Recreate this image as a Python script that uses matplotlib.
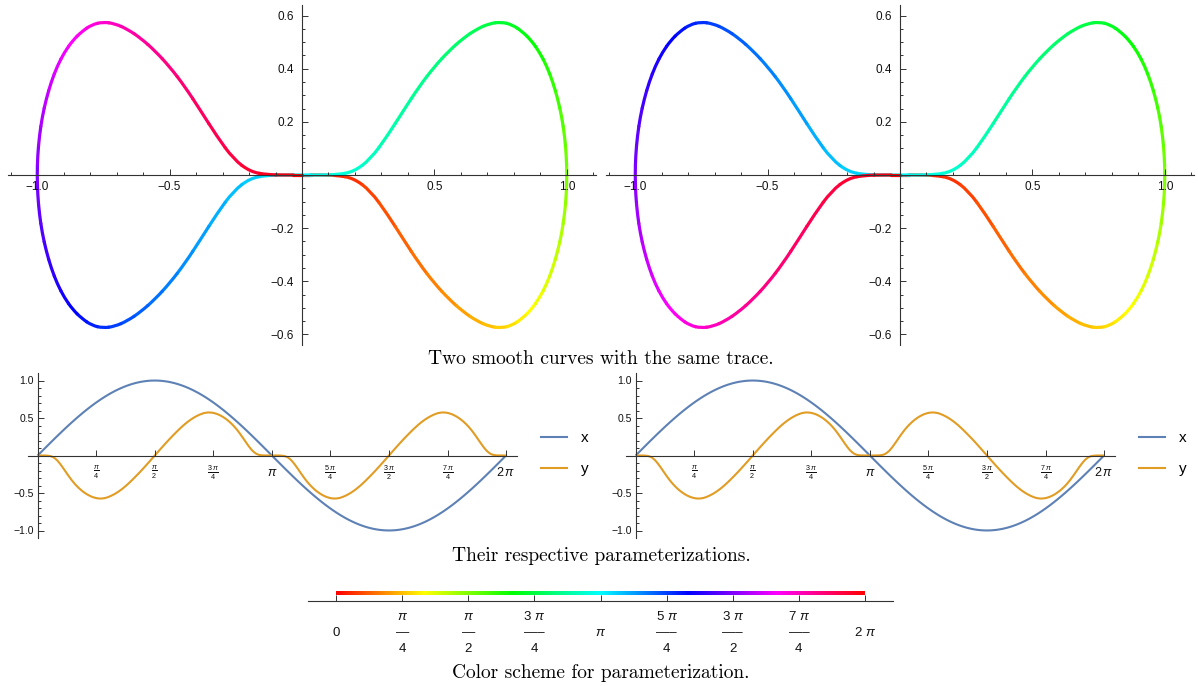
import numpy as np
import matplotlib
matplotlib.use("Agg")
import matplotlib.pyplot as plt
from matplotlib.collections import PathCollection
from matplotlib.colors import hsv_to_rgb
from matplotlib.lines import Line2D
from matplotlib.patches import PathPatch
from matplotlib.path import Path

plt.rcParams['font.family'] = 'Liberation Sans'
plt.rcParams['mathtext.fontset'] = 'custom'
plt.rcParams['mathtext.rm'] = 'Liberation Sans'
plt.rcParams['mathtext.it'] = 'Liberation Sans:italic'
plt.rcParams['mathtext.sf'] = 'Liberation Sans'

# parameter samples, t = k*pi/48, k = 0..96
t = np.linspace(0, 2 * np.pi, 97)

# x(t), same for both curves
x_vals = [0, 0.0654, 0.1305, 0.1951, 0.2588, 0.3214, 0.3827, 0.4423, 0.5, 0.5556, 0.6088, 0.6593, 0.7071,
          0.7518, 0.7934, 0.8315, 0.866, 0.8969, 0.9239, 0.9469, 0.9659, 0.9808, 0.9914, 0.9979, 1,
          0.9979, 0.9914, 0.9808, 0.9659, 0.9469, 0.9239, 0.8969, 0.866, 0.8315, 0.7934, 0.7518, 0.7071,
          0.6593, 0.6088, 0.5556, 0.5, 0.4423, 0.3827, 0.3214, 0.2588, 0.1951, 0.1305, 0.0654, 0,
          -0.0654, -0.1305, -0.1951, -0.2588, -0.3214, -0.3827, -0.4423, -0.5, -0.5556, -0.6088, -0.6593, -0.7071,
          -0.7518, -0.7934, -0.8315, -0.866, -0.8969, -0.9239, -0.9469, -0.9659, -0.9808, -0.9914, -0.9979, -1,
          -0.9979, -0.9914, -0.9808, -0.9659, -0.9469, -0.9239, -0.8969, -0.866, -0.8315, -0.7934, -0.7518, -0.7071,
          -0.6593, -0.6088, -0.5556, -0.5, -0.4423, -0.3827, -0.3214, -0.2588, -0.1951, -0.1305, -0.0654, 0]

# y(t) of the first curve
y1_vals = [0, 0, -0.001, -0.012, -0.06, -0.146, -0.242, -0.333, -0.408, -0.468, -0.515, -0.549, -0.57,
           -0.576, -0.566, -0.54, -0.506, -0.462, -0.41, -0.35, -0.285, -0.218, -0.147, -0.074, 0,
           0.074, 0.147, 0.218, 0.285, 0.35, 0.41, 0.462, 0.506, 0.54, 0.566, 0.576, 0.57,
           0.549, 0.515, 0.468, 0.408, 0.333, 0.242, 0.146, 0.06, 0.012, 0.001, 0, 0,
           0, -0.001, -0.012, -0.06, -0.146, -0.242, -0.333, -0.408, -0.468, -0.515, -0.549, -0.57,
           -0.576, -0.566, -0.54, -0.506, -0.462, -0.41, -0.35, -0.285, -0.218, -0.147, -0.074, 0,
           0.074, 0.147, 0.218, 0.285, 0.35, 0.41, 0.462, 0.506, 0.54, 0.566, 0.576, 0.57,
           0.549, 0.515, 0.468, 0.408, 0.333, 0.242, 0.146, 0.06, 0.012, 0.001, 0, 0]

# y(t) of the second curve
y2_vals = [0, 0, -0.001, -0.012, -0.06, -0.146, -0.242, -0.333, -0.408, -0.468, -0.515, -0.549, -0.57,
           -0.576, -0.566, -0.54, -0.506, -0.462, -0.41, -0.35, -0.285, -0.218, -0.147, -0.074, 0,
           0.074, 0.147, 0.218, 0.285, 0.35, 0.41, 0.462, 0.506, 0.54, 0.566, 0.576, 0.57,
           0.549, 0.515, 0.468, 0.408, 0.333, 0.242, 0.146, 0.06, 0.012, 0.001, 0, 0,
           0, 0.001, 0.012, 0.06, 0.146, 0.242, 0.333, 0.408, 0.468, 0.515, 0.549, 0.57,
           0.576, 0.566, 0.54, 0.506, 0.462, 0.41, 0.35, 0.285, 0.218, 0.147, 0.074, 0,
           -0.074, -0.147, -0.218, -0.285, -0.35, -0.41, -0.462, -0.506, -0.54, -0.566, -0.576, -0.57,
           -0.549, -0.515, -0.468, -0.408, -0.333, -0.242, -0.146, -0.06, -0.012, -0.001, 0, 0]

pi_ticks = [k * np.pi / 4 for k in range(9)]
param_tick_labels = ["", r"$\frac{\pi}{4}$", r"$\frac{\pi}{2}$", r"$\frac{3\,\pi}{4}$", r"$\pi$",
                     r"$\frac{5\,\pi}{4}$", r"$\frac{3\,\pi}{2}$", r"$\frac{7\,\pi}{4}$", r"$2\,\pi$"]
cbar_tick_labels = ["0", "$\\pi$\n\u2014\n4", "$\\pi$\n\u2014\n2", "3 $\\pi$\n\u2014\u2013\n4", "$\\pi$",
                    "5 $\\pi$\n\u2014\u2013\n4", "3 $\\pi$\n\u2014\u2013\n2", "7 $\\pi$\n\u2014\u2013\n4",
                    "2 $\\pi$"]

captions = ["Two smooth curves with the same trace.",
            "Their respective parameterizations.",
            "Color scheme for parameterization."]

AX_COL = "#333333"
BLUE = "#5E81B5"
ORANGE = "#E19C24"
W, H = 1198, 686


def px_axes(fig, x0, x1, ytop, ybot):
    return fig.add_axes([x0 / W, 1 - ybot / H, (x1 - x0) / W, (ybot - ytop) / H])


def mma_axes(ax):
    ax.spines['top'].set_visible(False)
    ax.spines['right'].set_visible(False)
    ax.spines['left'].set_position(('data', 0))
    ax.spines['bottom'].set_position(('data', 0))
    for s in ['left', 'bottom']:
        ax.spines[s].set_color(AX_COL)
        ax.spines[s].set_linewidth(0.8)
    ax.tick_params(which='both', direction='in', color=AX_COL, labelcolor='#111111', width=0.7)
    ax.tick_params(which='major', length=4)
    ax.tick_params(which='minor', length=2.3)
    ax.patch.set_alpha(0)


def hue_colors(tt):
    h = np.asarray(tt) / (2 * np.pi)
    return hsv_to_rgb(np.column_stack([h, np.ones_like(h), np.ones_like(h)]))


def smooth_pieces(xs, ys):
    # one quadratic bezier piece around every sample, so the trace has no corners
    p = np.column_stack([xs, ys])
    m = (p[:-1] + p[1:]) / 2
    pieces = [Path([p[0], m[0]], [Path.MOVETO, Path.LINETO])]
    for i in range(1, len(p) - 1):
        pieces.append(Path([m[i - 1], p[i], m[i]], [Path.MOVETO, Path.CURVE3, Path.CURVE3]))
    pieces.append(Path([m[-1], p[-1]], [Path.MOVETO, Path.LINETO]))
    return pieces


def smooth_path(xs, ys):
    return Path.make_compound_path(*smooth_pieces(xs, ys))


fig = plt.figure(figsize=(W / 100, H / 100), dpi=100)

# ---- top row: the two traced curves ----
for x0, ys in [(8, y1_vals), (606, y2_vals)]:
    ax = px_axes(fig, x0, x0 + 588, 5, 345)
    mma_axes(ax)
    pc = PathCollection(smooth_pieces(x_vals, ys), facecolors='none', edgecolors=hue_colors(t),
                        linewidths=2.3)
    pc.set_capstyle('round')
    ax.add_collection(pc)
    ax.set_xlim(-1.11, 1.11)
    ax.set_ylim(-0.64, 0.64)
    ax.set_xticks([-1, -0.5, 0.5, 1], ["\u22121.0", "\u22120.5", "0.5", "1.0"])
    ax.set_xticks(np.arange(-11, 12) / 10, minor=True)
    ax.set_yticks([-0.6, -0.4, -0.2, 0.2, 0.4, 0.6],
                  ["\u22120.6", "\u22120.4", "\u22120.2", "0.2", "0.4", "0.6"])
    ax.set_yticks(np.arange(-12, 13) / 20, minor=True)
    ax.tick_params(axis='both', labelsize=8.5)
    ax.tick_params(axis='x', pad=4)
    ax.tick_params(axis='y', pad=6)

# ---- middle row: parameterizations ----
for x0, ys in [(28, y1_vals), (626, y2_vals)]:
    ax = px_axes(fig, x0, x0 + 489, 373, 538)
    mma_axes(ax)
    ax.add_patch(PathPatch(smooth_path(t, x_vals), fill=False, edgecolor=BLUE, lw=1.5))
    ax.add_patch(PathPatch(smooth_path(t, ys), fill=False, edgecolor=ORANGE, lw=1.5))
    ax.set_xlim(-0.13, 6.43)
    ax.set_ylim(-1.1, 1.1)
    ax.set_xticks(pi_ticks[1:], param_tick_labels[1:])
    ax.set_yticks([-1, -0.5, 0.5, 1], ["\u22121.0", "\u22120.5", "0.5", "1.0"])
    ax.set_yticks(np.arange(-10, 11) / 10, minor=True)
    ax.tick_params(axis='y', labelsize=7.5, pad=3)
    ax.tick_params(axis='x', labelsize=7.5, pad=12.5)
    for lab in ax.get_xticklabels():
        lab.set_va('center')
        if "frac" not in lab.get_text():
            lab.set_fontsize(9)
    handles = [Line2D([], [], color=BLUE, lw=1.5), Line2D([], [], color=ORANGE, lw=1.5)]
    ax.legend(handles=handles, labels=["x", "y"], loc='center left', bbox_to_anchor=(1.05, 0.51),
              frameon=False, fontsize=11, handlelength=1.7, handletextpad=0.9, labelspacing=1.1,
              borderpad=0, borderaxespad=0)

# ---- bottom: colour scheme ----
ax = px_axes(fig, 308, 893, 585, 601)
for s in ['top', 'right', 'left']:
    ax.spines[s].set_visible(False)
ax.spines['bottom'].set_color(AX_COL)
ax.spines['bottom'].set_linewidth(0.8)
ax.patch.set_alpha(0)
grad = hue_colors(np.linspace(0, 2 * np.pi, 600))[np.newaxis, :, :]
ax.imshow(grad, extent=(0, 2 * np.pi, 0.38, 0.62), aspect='auto', interpolation='bilinear')
ax.set_xlim(-0.333, 2 * np.pi + 0.333)
ax.set_ylim(0, 1)
ax.set_yticks([])
ax.set_xticks(pi_ticks, cbar_tick_labels)
ax.tick_params(axis='x', direction='in', length=4, width=0.7, color=AX_COL, labelsize=9.5,
               labelcolor='#111111', pad=23)
for lab in ax.get_xticklabels():
    lab.set_va('center')
    lab.set_linespacing(1.45)
    lab.set_multialignment('center')

# captions
for cap, yc in zip(captions, [359, 556, 673]):
    fig.text(601 / W, 1 - yc / H, cap, ha='center', va='center', fontfamily='cmr10', fontsize=14)

fig.savefig("out.png", dpi=100)
